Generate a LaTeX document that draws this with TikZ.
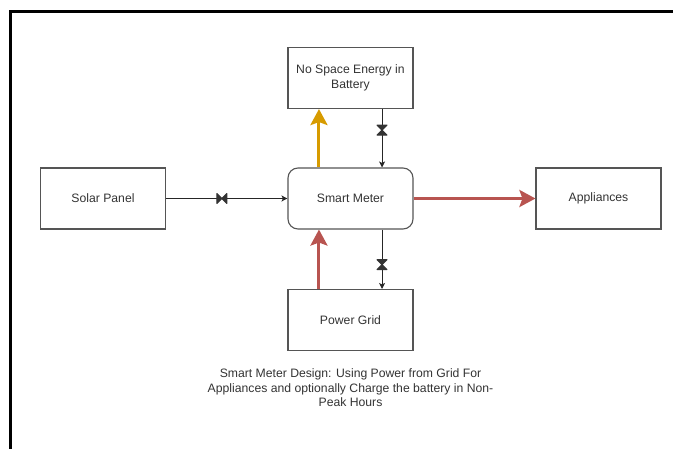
\documentclass[tikz,border=0pt]{standalone}
\usepackage{fontspec}
\setmainfont{Liberation Sans}
\usepackage{tikz}
\usetikzlibrary{arrows.meta,calc}
\definecolor{dio_red}{RGB}{184, 84, 80}
\definecolor{dio_orange}{RGB}{215, 155, 0}
\definecolor{dio_line}{RGB}{85, 85, 85}
\tikzstyle{blk}=[rectangle,draw=dio_line,line width=1.1pt,text=black!80,
  minimum width=125pt,minimum height=61pt,align=center,
  font=\fontsize{12.2pt}{14.5pt}\selectfont]
\tikzstyle{rblk}=[blk,rounded corners=10pt]
\tikzstyle{thin}=[draw=black!85,line width=0.9pt,
  -{Stealth[length=6pt,width=6pt,inset=1.5pt]}]
\tikzstyle{thick}=[line width=3pt,
  -{Stealth[length=16pt,width=17pt,inset=3pt]}]
\tikzstyle{none}=[]
\tikzset{valve/.pic={
  \filldraw[black!80,line width=1pt,line join=round]
    (-5,-5) -- (5,5) -- (5,-5) -- (-5,5) -- cycle;}}

\begin{document}
\begin{tikzpicture}[x=1pt,y=-1pt]
            \useasboundingbox (0, 0) rectangle (673, 449);
            \draw [line width=3pt] (10.5, 449) -- (10.5, 11.5) -- (673, 11.5);
            \node [style=blk] (bat) at (350.5, 78) {No Space Energy in\\Battery};
            \node [style=rblk] (meter) at (350.5, 198.5) {Smart Meter};
            \node [style=blk] (solar) at (103, 198.5) {Solar Panel};
            \node [style=blk] (app) at (598.5, 198.5) {Appliances};
            \node [style=blk] (grid) at (350.5, 320) {Power Grid};
            \node [style=none, text=black!80, align=center,
              font=\fontsize{12.2pt}{14.5pt}\selectfont] (caption) at (350.5, 388)
              {Smart Meter Design: Using Power from Grid For\\
               Appliances and optionally Charge the battery in Non-\\
               Peak Hours};
            \draw [style=thin] (solar) -- pic [pos=.46, sloped] {valve} (meter);
            \draw [style=thin] ($(bat.south west)!.75!(bat.south east)$)
              -- pic [pos=.36, sloped] {valve} ($(meter.north west)!.75!(meter.north east)$);
            \draw [style=thin] ($(meter.south west)!.75!(meter.south east)$)
              -- pic [pos=.59, sloped] {valve} ($(grid.north west)!.75!(grid.north east)$);
            \draw [style=thick, dio_orange] ($(meter.north west)!.25!(meter.north east)$)
              -- ($(bat.south west)!.25!(bat.south east)$);
            \draw [style=thick, dio_red] ($(grid.north west)!.25!(grid.north east)$)
              -- ($(meter.south west)!.25!(meter.south east)$);
            \draw [style=thick, dio_red] (meter) -- (app);
    \end{tikzpicture}
\end{document}
